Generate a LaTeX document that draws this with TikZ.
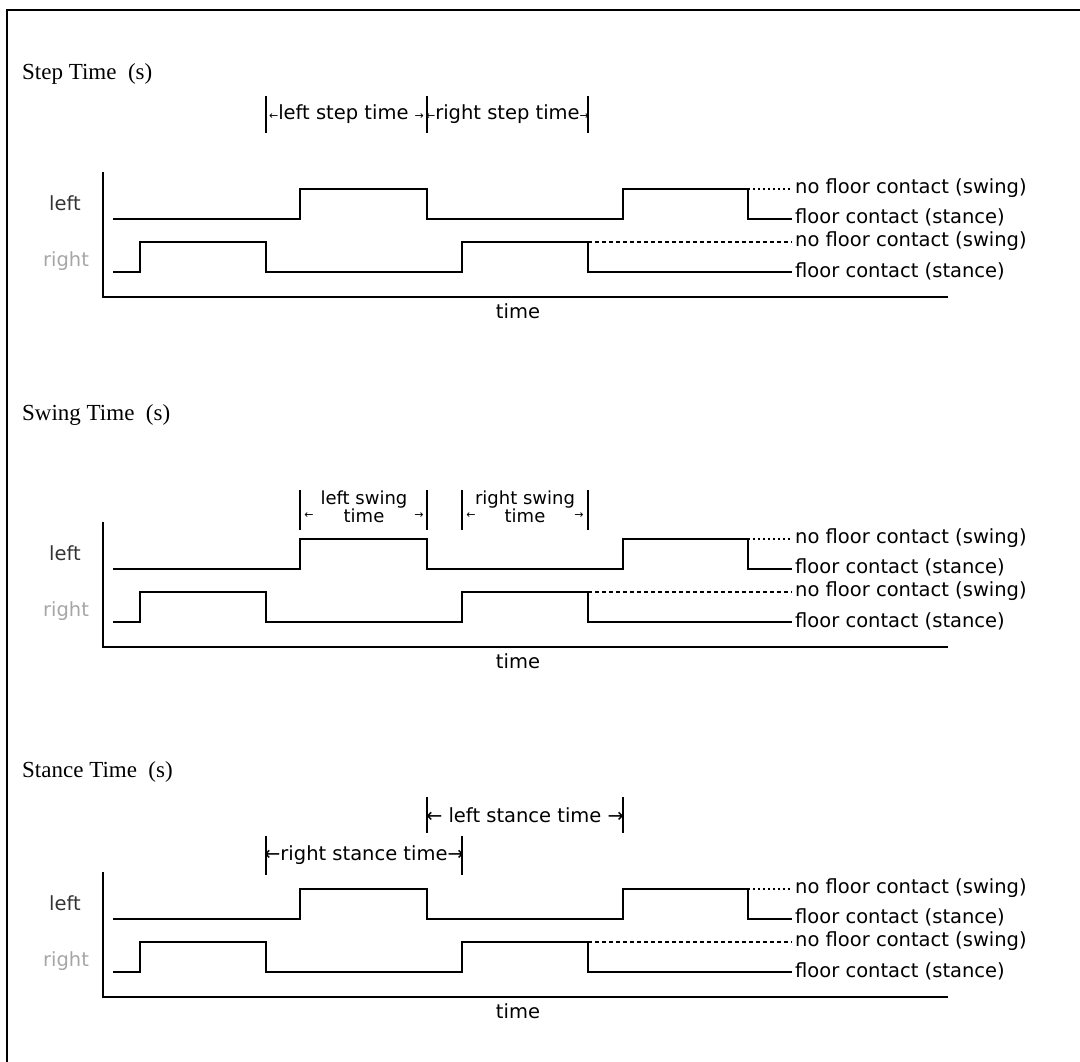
\documentclass[tikz,border=0pt]{standalone}
\usepackage{fontspec}
\setmainfont{Liberation Serif}
\newfontfamily\dvs{DejaVu Sans}
\newcommand\gaitlab{\dvs\fontsize{19.5}{20}\selectfont}
\newcommand\swlab{\dvs\fontsize{18}{14}\selectfont}
\newcommand\smallarr{\dvs\fontsize{11}{11}\selectfont}
\newcommand\titlefont{\rmfamily\fontsize{23}{24}\selectfont}
\tikzset{
  sig/.style={line width=2pt, line join=miter},
  axisline/.style={line width=2pt},
  dashline/.style={line width=1.4pt, dash pattern=on 4pt off 3pt},
  dotline/.style={line width=1.4pt, dash pattern=on 2pt off 3pt},
  lab/.style={anchor=west, inner sep=0pt, font=\gaitlab},
  barline/.style={line width=2pt},
  ttl/.style={anchor=base west, inner sep=0pt, font=\titlefont},
  mk/.style={inner sep=0pt, font=\gaitlab},
}
\newcommand\gaitpanel[2]{%
\begin{scope}[shift={(0,#2)}]
  \draw[axisline] (103,172) coordinate (#1axt) -- (103,297) coordinate (#1o) -- (948,297) coordinate (#1axe);
  \draw[sig] (113,219) coordinate (#1ls) -- (300,219) -- (300,189) -- (427,189) -- (427,219) -- (623,219) -- (623,189) -- (748,189) coordinate (#1lhe) -- (748,219) -- (792,219) coordinate (#1lle);
  \draw[sig] (113,272) coordinate (#1rs) -- (140,272) -- (140,242) -- (266,242) -- (266,272) -- (462,272) -- (462,242) -- (588,242) coordinate (#1rhe) -- (588,272) -- (792,272) coordinate (#1rle);
  \coordinate (#1lhd) at (792,189);
  \coordinate (#1rhd) at (792,242);
  \draw[dotline] (#1lhe) -- (#1lhd);
  \draw[dashline] (#1rhe) -- (#1rhd);
  \node[lab] (#1l1) at (795,188) {no floor contact (swing)};
  \node[lab] (#1l2) at (795,217) {floor contact (stance)};
  \node[lab] (#1l3) at (795,241) {no floor contact (swing)};
  \node[lab] (#1l4) at (795,271) {floor contact (stance)};
  \node[mk, text=black!80] (#1left) at (65,203) {left};
  \node[mk, text=black!35] (#1right) at (66,261) {right};
  \node[mk] (#1time) at (518,311) {time};
\end{scope}}
\begin{document}
\begin{tikzpicture}[x=1pt,y=-1pt]
\useasboundingbox (0,0) rectangle (1080,1062);
\coordinate (fa) at (1080,10);
\coordinate (fb) at (7,10);
\coordinate (fc) at (7,1062);
\draw[line width=2pt] (fa) -- (fb) -- (fc);

% titles
\node[ttl] (t1) at (22,80) {Step Time\ \ (s)};
\node[ttl] (t2) at (22,420) {Swing Time\ \ (s)};
\node[ttl] (t3) at (22,777) {Stance Time\ \ (s)};

\gaitpanel{a}{0}
\gaitpanel{b}{350}
\gaitpanel{c}{700}

% step time markers
\draw[barline] (266,96) coordinate (s1a) -- (266,133) coordinate (s1b);
\draw[barline] (427,96) coordinate (s2a) -- (427,133) coordinate (s2b);
\draw[barline] (588,96) coordinate (s3a) -- (588,133) coordinate (s3b);
\node[mk] (stl) at (346.5,114) {{\smallarr←}left step time {\smallarr→}};
\node[mk] (str) at (507.5,114) {{\smallarr←}right step time{\smallarr→}};

% swing time markers
\draw[barline] (300,490) coordinate (w1a) -- (300,530) coordinate (w1b);
\draw[barline] (427,490) coordinate (w2a) -- (427,530) coordinate (w2b);
\draw[barline] (462,490) coordinate (w3a) -- (462,530) coordinate (w3b);
\draw[barline] (588,490) coordinate (w4a) -- (588,530) coordinate (w4b);
\node[mk, font=\swlab, align=center] (wl) at (364,507) {left swing\\time};
\node[mk, font=\smallarr] (wla) at (309,516) {←};
\node[mk, font=\smallarr] (wlb) at (419,516) {→};
\node[mk, font=\swlab, align=center] (wr) at (525,507) {right swing\\time};
\node[mk, font=\smallarr] (wra) at (471,516) {←};
\node[mk, font=\smallarr] (wrb) at (579,516) {→};

% stance time markers
\draw[barline] (427,797) coordinate (p1a) -- (427,833) coordinate (p1b);
\draw[barline] (623,797) coordinate (p2a) -- (623,833) coordinate (p2b);
\node[mk] (pl) at (525,815) {← left stance time →};
\draw[barline] (266,836) coordinate (p3a) -- (266,875) coordinate (p3b);
\draw[barline] (462,836) coordinate (p4a) -- (462,875) coordinate (p4b);
\node[mk] (pr) at (364,855) {←right stance time→};
\end{tikzpicture}
\end{document}
